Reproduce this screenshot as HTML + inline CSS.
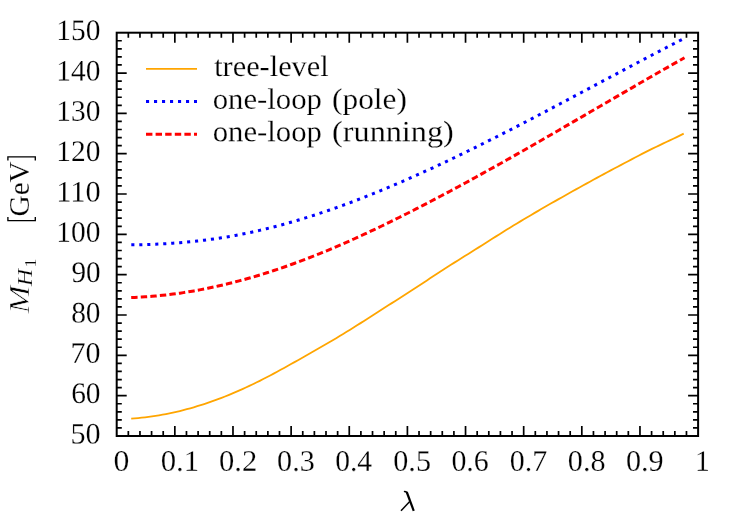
<!DOCTYPE html>
<html><head><meta charset="utf-8"><title>plot</title>
<style>
html,body{margin:0;padding:0;background:#fff;}
svg{display:block}
text{font-family:"Liberation Serif",serif;fill:#000;stroke:#fff;stroke-width:0.2px}
</style></head><body>
<svg style="will-change:transform" width="747" height="523" viewBox="0 0 747 523">
<rect width="747" height="523" fill="#fff"/>
<path d="M131.20,418.54 L134.67,418.31 L138.15,418.03 L141.62,417.70 L145.10,417.32 L148.57,416.89 L152.05,416.42 L155.52,415.91 L159.00,415.34 L162.47,414.73 L165.95,414.08 L169.42,413.38 L172.90,412.64 L176.37,411.85 L179.85,411.02 L183.32,410.15 L186.80,409.23 L190.27,408.27 L193.75,407.27 L197.22,406.23 L200.70,405.15 L204.17,404.03 L207.65,402.87 L211.12,401.67 L214.60,400.42 L218.07,399.14 L221.55,397.82 L225.02,396.47 L228.50,395.07 L231.97,393.64 L235.45,392.16 L238.92,390.66 L242.39,389.11 L245.87,387.53 L249.34,385.91 L252.82,384.25 L256.29,382.56 L259.77,380.83 L263.24,379.07 L266.72,377.27 L270.19,375.45 L273.67,373.60 L277.14,371.73 L280.62,369.83 L284.09,367.92 L287.57,365.99 L291.04,364.06 L294.52,362.11 L297.99,360.16 L301.47,358.21 L304.94,356.25 L308.42,354.29 L311.89,352.31 L315.37,350.33 L318.84,348.34 L322.32,346.34 L325.79,344.32 L329.27,342.28 L332.74,340.23 L336.22,338.16 L339.69,336.07 L343.17,333.96 L346.64,331.83 L350.12,329.68 L353.59,327.51 L357.06,325.33 L360.54,323.13 L364.01,320.93 L367.49,318.72 L370.96,316.50 L374.44,314.27 L377.91,312.04 L381.39,309.81 L384.86,307.58 L388.34,305.36 L391.81,303.13 L395.29,300.91 L398.76,298.68 L402.24,296.46 L405.71,294.23 L409.19,291.99 L412.66,289.74 L416.14,287.49 L419.61,285.22 L423.09,282.93 L426.56,280.64 L430.04,278.34 L433.51,276.05 L436.99,273.77 L440.46,271.51 L443.94,269.27 L447.41,267.04 L450.89,264.83 L454.36,262.63 L457.84,260.45 L461.31,258.27 L464.78,256.09 L468.26,253.92 L471.73,251.74 L475.21,249.56 L478.68,247.38 L482.16,245.18 L485.63,242.98 L489.11,240.78 L492.58,238.58 L496.06,236.38 L499.53,234.19 L503.01,232.01 L506.48,229.85 L509.96,227.70 L513.43,225.57 L516.91,223.46 L520.38,221.36 L523.86,219.28 L527.33,217.22 L530.81,215.17 L534.28,213.13 L537.76,211.11 L541.23,209.09 L544.71,207.08 L548.18,205.09 L551.66,203.09 L555.13,201.11 L558.61,199.13 L562.08,197.16 L565.56,195.20 L569.03,193.25 L572.51,191.30 L575.98,189.36 L579.45,187.43 L582.93,185.50 L586.40,183.59 L589.88,181.68 L593.35,179.78 L596.83,177.88 L600.30,176.00 L603.78,174.12 L607.25,172.25 L610.73,170.39 L614.20,168.54 L617.68,166.69 L621.15,164.86 L624.63,163.02 L628.10,161.17 L631.58,159.33 L635.05,157.50 L638.53,155.69 L642.00,153.90 L645.48,152.13 L648.95,150.39 L652.43,148.67 L655.90,146.99 L659.38,145.33 L662.85,143.68 L666.33,142.05 L669.80,140.41 L673.28,138.77 L676.75,137.10 L680.23,135.40 L683.70,133.66" fill="none" stroke="#ffa500" stroke-width="1.8"/>
<path d="M131.30,244.84 L134.77,244.80 L138.23,244.73 L141.70,244.66 L145.16,244.56 L148.63,244.45 L152.10,244.33 L155.56,244.18 L159.03,244.02 L162.49,243.84 L165.96,243.65 L169.43,243.43 L172.89,243.20 L176.36,242.95 L179.82,242.67 L183.29,242.38 L186.76,242.07 L190.22,241.74 L193.69,241.39 L197.15,241.01 L200.62,240.62 L204.09,240.20 L207.55,239.76 L211.02,239.30 L214.48,238.82 L217.95,238.31 L221.42,237.78 L224.88,237.23 L228.35,236.65 L231.82,236.05 L235.28,235.42 L238.75,234.77 L242.21,234.09 L245.68,233.40 L249.15,232.68 L252.61,231.93 L256.08,231.17 L259.54,230.38 L263.01,229.57 L266.48,228.73 L269.94,227.88 L273.41,227.00 L276.87,226.11 L280.34,225.19 L283.81,224.25 L287.27,223.29 L290.74,222.31 L294.20,221.31 L297.67,220.29 L301.14,219.25 L304.60,218.19 L308.07,217.12 L311.53,216.02 L315.00,214.91 L318.47,213.78 L321.93,212.63 L325.40,211.46 L328.86,210.27 L332.33,209.07 L335.80,207.85 L339.26,206.61 L342.73,205.36 L346.19,204.09 L349.66,202.80 L353.13,201.50 L356.59,200.19 L360.06,198.85 L363.52,197.51 L366.99,196.14 L370.46,194.77 L373.92,193.38 L377.39,191.97 L380.85,190.55 L384.32,189.12 L387.79,187.68 L391.25,186.22 L394.72,184.74 L398.18,183.26 L401.65,181.76 L405.12,180.26 L408.58,178.73 L412.05,177.20 L415.52,175.66 L418.98,174.10 L422.45,172.54 L425.91,170.96 L429.38,169.37 L432.85,167.77 L436.31,166.17 L439.78,164.55 L443.24,162.92 L446.71,161.28 L450.18,159.63 L453.64,157.98 L457.11,156.31 L460.57,154.64 L464.04,152.96 L467.51,151.27 L470.97,149.57 L474.44,147.86 L477.90,146.15 L481.37,144.43 L484.84,142.70 L488.30,140.96 L491.77,139.22 L495.23,137.47 L498.70,135.71 L502.17,133.95 L505.63,132.19 L509.10,130.41 L512.56,128.63 L516.03,126.85 L519.50,125.06 L522.96,123.27 L526.43,121.47 L529.89,119.67 L533.36,117.86 L536.83,116.05 L540.29,114.24 L543.76,112.42 L547.22,110.60 L550.69,108.77 L554.16,106.94 L557.62,105.12 L561.09,103.28 L564.55,101.45 L568.02,99.61 L571.49,97.77 L574.95,95.93 L578.42,94.09 L581.88,92.25 L585.35,90.41 L588.82,88.56 L592.28,86.72 L595.75,84.87 L599.22,83.03 L602.68,81.18 L606.15,79.34 L609.61,77.49 L613.08,75.65 L616.55,73.81 L620.01,71.97 L623.48,70.13 L626.94,68.29 L630.41,66.45 L633.88,64.62 L637.34,62.79 L640.81,60.96 L644.27,59.13 L647.74,57.31 L651.21,55.49 L654.67,53.67 L658.14,51.86 L661.60,50.05 L665.07,48.24 L668.54,46.44 L672.00,44.64 L675.47,42.85 L678.93,41.07 L682.40,39.28" fill="none" stroke="#0000ff" stroke-width="3" stroke-dasharray="3.1 4.885"/>
<path d="M131.20,297.55 L134.68,297.41 L138.16,297.25 L141.64,297.06 L145.12,296.85 L148.60,296.60 L152.08,296.32 L155.56,296.02 L159.04,295.69 L162.52,295.33 L166.00,294.95 L169.48,294.53 L172.96,294.10 L176.44,293.63 L179.92,293.14 L183.40,292.62 L186.88,292.07 L190.36,291.50 L193.84,290.90 L197.32,290.28 L200.80,289.63 L204.28,288.96 L207.76,288.26 L211.24,287.54 L214.72,286.79 L218.20,286.02 L221.68,285.23 L225.16,284.41 L228.64,283.57 L232.12,282.70 L235.60,281.81 L239.08,280.90 L242.56,279.97 L246.04,279.01 L249.52,278.03 L253.00,277.03 L256.48,276.00 L259.96,274.95 L263.44,273.88 L266.92,272.78 L270.39,271.66 L273.87,270.52 L277.35,269.36 L280.83,268.17 L284.31,266.97 L287.79,265.74 L291.27,264.50 L294.75,263.23 L298.23,261.95 L301.71,260.64 L305.19,259.32 L308.67,257.98 L312.15,256.62 L315.63,255.25 L319.11,253.85 L322.59,252.45 L326.07,251.02 L329.55,249.58 L333.03,248.11 L336.51,246.64 L339.99,245.14 L343.47,243.63 L346.95,242.10 L350.43,240.56 L353.91,239.00 L357.39,237.42 L360.87,235.83 L364.35,234.23 L367.83,232.61 L371.31,230.97 L374.79,229.33 L378.27,227.67 L381.75,226.00 L385.23,224.31 L388.71,222.62 L392.19,220.91 L395.67,219.20 L399.15,217.47 L402.63,215.73 L406.11,213.99 L409.59,212.23 L413.07,210.47 L416.55,208.69 L420.03,206.91 L423.51,205.11 L426.99,203.31 L430.47,201.50 L433.95,199.68 L437.43,197.85 L440.91,196.02 L444.39,194.17 L447.87,192.32 L451.35,190.46 L454.83,188.60 L458.31,186.72 L461.79,184.84 L465.27,182.95 L468.75,181.06 L472.23,179.15 L475.71,177.24 L479.19,175.33 L482.67,173.41 L486.15,171.48 L489.63,169.55 L493.11,167.61 L496.59,165.66 L500.07,163.71 L503.55,161.76 L507.03,159.80 L510.51,157.83 L513.99,155.86 L517.47,153.89 L520.95,151.91 L524.43,149.93 L527.91,147.94 L531.39,145.95 L534.87,143.96 L538.35,141.97 L541.83,139.97 L545.31,137.97 L548.78,135.96 L552.26,133.96 L555.74,131.95 L559.22,129.94 L562.70,127.93 L566.18,125.92 L569.66,123.90 L573.14,121.89 L576.62,119.87 L580.10,117.86 L583.58,115.84 L587.06,113.82 L590.54,111.80 L594.02,109.78 L597.50,107.76 L600.98,105.74 L604.46,103.72 L607.94,101.70 L611.42,99.68 L614.90,97.66 L618.38,95.65 L621.86,93.63 L625.34,91.61 L628.82,89.60 L632.30,87.58 L635.78,85.57 L639.26,83.56 L642.74,81.55 L646.22,79.54 L649.70,77.54 L653.18,75.54 L656.66,73.55 L660.14,71.56 L663.62,69.57 L667.10,67.59 L670.58,65.61 L674.06,63.64 L677.54,61.68 L681.02,59.72 L684.50,57.78" fill="none" stroke="#ff0000" stroke-width="3" stroke-dasharray="6.4 3.183"/>
<path d="M146,68.9H197" fill="none" stroke="#ffa500" stroke-width="1.8"/>
<path d="M146,101.5H197" fill="none" stroke="#0000ff" stroke-width="3" stroke-dasharray="3.1 4.9"/>
<path d="M146,134.2H197" fill="none" stroke="#ff0000" stroke-width="3" stroke-dasharray="6.4 3.2"/>
<path d="M128.33,436.0v-5.1M128.33,32.7v5.1M116.7,427.93h5.1M698.1,427.93h-5.1M139.96,436.0v-5.1M139.96,32.7v5.1M116.7,419.87h5.1M698.1,419.87h-5.1M151.58,436.0v-5.1M151.58,32.7v5.1M116.7,411.80h5.1M698.1,411.80h-5.1M163.21,436.0v-5.1M163.21,32.7v5.1M116.7,403.74h5.1M698.1,403.74h-5.1M174.84,436.0v-10.0M174.84,32.7v10.0M116.7,395.67h10.0M698.1,395.67h-10.0M186.47,436.0v-5.1M186.47,32.7v5.1M116.7,387.60h5.1M698.1,387.60h-5.1M198.10,436.0v-5.1M198.10,32.7v5.1M116.7,379.54h5.1M698.1,379.54h-5.1M209.72,436.0v-5.1M209.72,32.7v5.1M116.7,371.47h5.1M698.1,371.47h-5.1M221.35,436.0v-5.1M221.35,32.7v5.1M116.7,363.41h5.1M698.1,363.41h-5.1M232.98,436.0v-10.0M232.98,32.7v10.0M116.7,355.34h10.0M698.1,355.34h-10.0M244.61,436.0v-5.1M244.61,32.7v5.1M116.7,347.27h5.1M698.1,347.27h-5.1M256.24,436.0v-5.1M256.24,32.7v5.1M116.7,339.21h5.1M698.1,339.21h-5.1M267.86,436.0v-5.1M267.86,32.7v5.1M116.7,331.14h5.1M698.1,331.14h-5.1M279.49,436.0v-5.1M279.49,32.7v5.1M116.7,323.08h5.1M698.1,323.08h-5.1M291.12,436.0v-10.0M291.12,32.7v10.0M116.7,315.01h10.0M698.1,315.01h-10.0M302.75,436.0v-5.1M302.75,32.7v5.1M116.7,306.94h5.1M698.1,306.94h-5.1M314.38,436.0v-5.1M314.38,32.7v5.1M116.7,298.88h5.1M698.1,298.88h-5.1M326.00,436.0v-5.1M326.00,32.7v5.1M116.7,290.81h5.1M698.1,290.81h-5.1M337.63,436.0v-5.1M337.63,32.7v5.1M116.7,282.75h5.1M698.1,282.75h-5.1M349.26,436.0v-10.0M349.26,32.7v10.0M116.7,274.68h10.0M698.1,274.68h-10.0M360.89,436.0v-5.1M360.89,32.7v5.1M116.7,266.61h5.1M698.1,266.61h-5.1M372.52,436.0v-5.1M372.52,32.7v5.1M116.7,258.55h5.1M698.1,258.55h-5.1M384.14,436.0v-5.1M384.14,32.7v5.1M116.7,250.48h5.1M698.1,250.48h-5.1M395.77,436.0v-5.1M395.77,32.7v5.1M116.7,242.42h5.1M698.1,242.42h-5.1M407.40,436.0v-10.0M407.40,32.7v10.0M116.7,234.35h10.0M698.1,234.35h-10.0M419.03,436.0v-5.1M419.03,32.7v5.1M116.7,226.28h5.1M698.1,226.28h-5.1M430.66,436.0v-5.1M430.66,32.7v5.1M116.7,218.22h5.1M698.1,218.22h-5.1M442.28,436.0v-5.1M442.28,32.7v5.1M116.7,210.15h5.1M698.1,210.15h-5.1M453.91,436.0v-5.1M453.91,32.7v5.1M116.7,202.09h5.1M698.1,202.09h-5.1M465.54,436.0v-10.0M465.54,32.7v10.0M116.7,194.02h10.0M698.1,194.02h-10.0M477.17,436.0v-5.1M477.17,32.7v5.1M116.7,185.95h5.1M698.1,185.95h-5.1M488.80,436.0v-5.1M488.80,32.7v5.1M116.7,177.89h5.1M698.1,177.89h-5.1M500.42,436.0v-5.1M500.42,32.7v5.1M116.7,169.82h5.1M698.1,169.82h-5.1M512.05,436.0v-5.1M512.05,32.7v5.1M116.7,161.76h5.1M698.1,161.76h-5.1M523.68,436.0v-10.0M523.68,32.7v10.0M116.7,153.69h10.0M698.1,153.69h-10.0M535.31,436.0v-5.1M535.31,32.7v5.1M116.7,145.62h5.1M698.1,145.62h-5.1M546.94,436.0v-5.1M546.94,32.7v5.1M116.7,137.56h5.1M698.1,137.56h-5.1M558.56,436.0v-5.1M558.56,32.7v5.1M116.7,129.49h5.1M698.1,129.49h-5.1M570.19,436.0v-5.1M570.19,32.7v5.1M116.7,121.43h5.1M698.1,121.43h-5.1M581.82,436.0v-10.0M581.82,32.7v10.0M116.7,113.36h10.0M698.1,113.36h-10.0M593.45,436.0v-5.1M593.45,32.7v5.1M116.7,105.29h5.1M698.1,105.29h-5.1M605.08,436.0v-5.1M605.08,32.7v5.1M116.7,97.23h5.1M698.1,97.23h-5.1M616.70,436.0v-5.1M616.70,32.7v5.1M116.7,89.16h5.1M698.1,89.16h-5.1M628.33,436.0v-5.1M628.33,32.7v5.1M116.7,81.10h5.1M698.1,81.10h-5.1M639.96,436.0v-10.0M639.96,32.7v10.0M116.7,73.03h10.0M698.1,73.03h-10.0M651.59,436.0v-5.1M651.59,32.7v5.1M116.7,64.96h5.1M698.1,64.96h-5.1M663.22,436.0v-5.1M663.22,32.7v5.1M116.7,56.90h5.1M698.1,56.90h-5.1M674.84,436.0v-5.1M674.84,32.7v5.1M116.7,48.83h5.1M698.1,48.83h-5.1M686.47,436.0v-5.1M686.47,32.7v5.1M116.7,40.77h5.1M698.1,40.77h-5.1" fill="none" stroke="#000" stroke-width="1.7"/>
<rect x="116.7" y="32.7" width="581.40" height="403.30" fill="none" stroke="#000" stroke-width="2"/>
<text transform="rotate(0.05 85.6 443.4)" x="70.50" y="443.40" font-size="29.7"  textLength="30.16" lengthAdjust="spacingAndGlyphs">50</text>
<text transform="rotate(0.05 85.9 403.1)" x="71.17" y="403.07" font-size="29.7"  textLength="29.39" lengthAdjust="spacingAndGlyphs">60</text>
<text transform="rotate(0.05 85.5 362.7)" x="70.50" y="362.74" font-size="29.7"  textLength="29.94" lengthAdjust="spacingAndGlyphs">70</text>
<text transform="rotate(0.05 85.9 322.4)" x="71.17" y="322.41" font-size="29.7"  textLength="29.38" lengthAdjust="spacingAndGlyphs">80</text>
<text transform="rotate(0.05 86.0 282.1)" x="71.40" y="282.08" font-size="29.7"  textLength="29.13" lengthAdjust="spacingAndGlyphs">90</text>
<text transform="rotate(0.05 78.4 241.8)" x="56.32" y="241.75" font-size="29.7"  textLength="44.13" lengthAdjust="spacingAndGlyphs">100</text>
<text transform="rotate(0.05 78.5 201.4)" x="56.32" y="201.42" font-size="29.7"  textLength="44.37" lengthAdjust="spacingAndGlyphs">110</text>
<text transform="rotate(0.05 78.4 161.1)" x="56.32" y="161.09" font-size="29.7"  textLength="44.13" lengthAdjust="spacingAndGlyphs">120</text>
<text transform="rotate(0.05 78.4 120.8)" x="56.32" y="120.76" font-size="29.7"  textLength="44.13" lengthAdjust="spacingAndGlyphs">130</text>
<text transform="rotate(0.05 78.4 80.4)" x="56.32" y="80.43" font-size="29.7"  textLength="44.13" lengthAdjust="spacingAndGlyphs">140</text>
<text transform="rotate(0.05 78.4 40.1)" x="56.32" y="40.10" font-size="29.7"  textLength="44.13" lengthAdjust="spacingAndGlyphs">150</text>
<text transform="rotate(0.05 121.6 470.7)" x="113.62" y="470.70" font-size="29.7"  textLength="15.86" lengthAdjust="spacingAndGlyphs">0</text>
<text transform="rotate(0.05 179.9 470.7)" x="160.72" y="470.70" font-size="29.7"  textLength="38.42" lengthAdjust="spacingAndGlyphs">0.1</text>
<text transform="rotate(0.05 238.1 470.7)" x="219.04" y="470.70" font-size="29.7"  textLength="38.15" lengthAdjust="spacingAndGlyphs">0.2</text>
<text transform="rotate(0.05 296.0 470.7)" x="277.14" y="470.70" font-size="29.7"  textLength="37.66" lengthAdjust="spacingAndGlyphs">0.3</text>
<text transform="rotate(0.05 353.7 470.7)" x="335.23" y="470.70" font-size="29.7"  textLength="36.90" lengthAdjust="spacingAndGlyphs">0.4</text>
<text transform="rotate(0.05 412.1 470.7)" x="393.32" y="470.70" font-size="29.7"  textLength="37.64" lengthAdjust="spacingAndGlyphs">0.5</text>
<text transform="rotate(0.05 470.1 470.7)" x="451.42" y="470.70" font-size="29.7"  textLength="37.39" lengthAdjust="spacingAndGlyphs">0.6</text>
<text transform="rotate(0.05 528.4 470.7)" x="509.74" y="470.70" font-size="29.7"  textLength="37.39" lengthAdjust="spacingAndGlyphs">0.7</text>
<text transform="rotate(0.05 586.7 470.7)" x="567.84" y="470.70" font-size="29.7"  textLength="37.65" lengthAdjust="spacingAndGlyphs">0.8</text>
<text transform="rotate(0.05 644.8 470.7)" x="625.93" y="470.70" font-size="29.7"  textLength="37.64" lengthAdjust="spacingAndGlyphs">0.9</text>
<text transform="rotate(0.05 702.5 470.7)" x="695.07" y="470.70" font-size="29.7"  textLength="14.80" lengthAdjust="spacingAndGlyphs">1</text>
<text transform="rotate(0.05 271.4 76.0)" x="214.18" y="76.00" font-size="29.5"  textLength="114.51" lengthAdjust="spacingAndGlyphs">tree-level</text>
<text transform="rotate(0.05 267.3 108.7)" x="212.68" y="108.70" font-size="29.5"  textLength="109.20" lengthAdjust="spacingAndGlyphs">one-loop</text>
<text transform="rotate(0.05 369.4 108.7)" x="332.05" y="108.70" font-size="29.5"  textLength="74.76" lengthAdjust="spacingAndGlyphs">(pole)</text>
<text transform="rotate(0.05 267.3 141.3)" x="212.68" y="141.30" font-size="29.5"  textLength="109.20" lengthAdjust="spacingAndGlyphs">one-loop</text>
<text transform="rotate(0.05 392.9 141.3)" x="332.05" y="141.30" font-size="29.5"  textLength="121.76" lengthAdjust="spacingAndGlyphs">(running)</text>
<g transform="translate(29.0,313.4) rotate(-90)"><text x="0.00" y="0.00" font-size="30" font-style="italic" style="stroke-width:0.5px" textLength="28.00" lengthAdjust="spacingAndGlyphs">M</text><text x="27.50" y="3.40" font-size="20.5" font-style="italic" textLength="17.00" lengthAdjust="spacingAndGlyphs">H</text><text x="46.20" y="7.40" font-size="16.5"  textLength="8.60" lengthAdjust="spacingAndGlyphs">1</text><text x="97.00" y="0.00" font-size="30"  textLength="55.00" lengthAdjust="spacingAndGlyphs">GeV</text><path d="M96.5,-21.1H92.8V6.3H96.5" fill="none" stroke="#000" stroke-width="1.35"/><path d="M152.9,-21.1H156.5V6.3H152.9" fill="none" stroke="#000" stroke-width="1.35"/></g>
<g fill="none" stroke="#000"><path d="M403.9,491.6 Q406.4,491.0 407.4,493.4" stroke-width="1.3"/><path d="M406.75,492.0 L413.75,510.9" stroke-width="2.2"/><path d="M409.5,501.7 L401.0,510.8" stroke-width="1.5"/></g>
</svg></body></html>
